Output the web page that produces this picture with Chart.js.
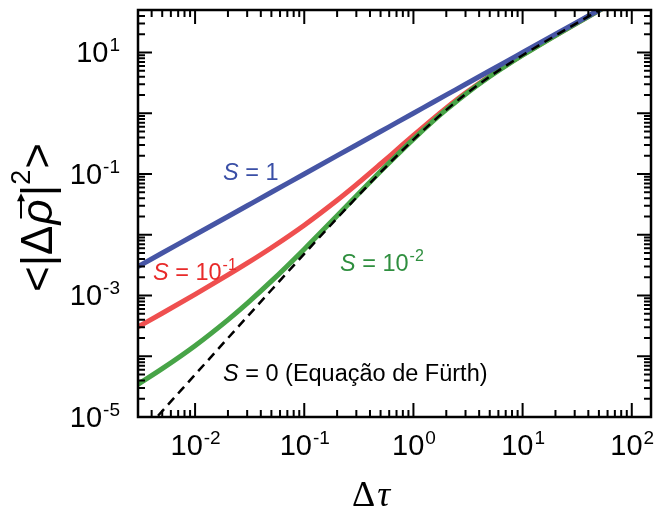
<!DOCTYPE html>
<html lang="pt">
<head>
    <meta charset="UTF-8">
    <title>MSD</title>
    <script src="https://cdn.jsdelivr.net/npm/chart.js"></script>
    <style>
        body { margin: 0; background: #fff; }
        canvas { display: block; }
    </style>
</head>
<body>
    <canvas id="msdChart" width="655" height="513"></canvas>

    <script>
        // values
        const tauValues = [0.003, 0.005, 0.01, 0.02, 0.03, 0.05, 0.1, 0.2, 0.3, 0.5, 0.7, 1, 1.5, 2, 3, 5, 7, 10, 20, 50, 70];
        const s1Values = [0.003, 0.005, 0.01, 0.02, 0.03, 0.05, 0.1, 0.2, 0.3, 0.5, 0.7, 1, 1.5, 2, 3, 5, 7, 10, 20, 50, 70];
        const s01Values = [3.04e-4, 5.11e-4, 1.045e-3, 2.18e-3, 3.40e-3, 6.11e-3, 0.01435, 0.0369, 0.0667, 0.146, 0.247, 0.431, 0.801, 1.222, 2.145, 4.106, 6.10, 9.10, 19.1, 49.1, 69.1];
        const s001Values = [3.45e-5, 6.24e-5, 1.49e-4, 3.97e-4, 7.41e-4, 1.72e-3, 5.79e-3, 0.0205, 0.0434, 0.1105, 0.2016, 0.374, 0.731, 1.144, 2.059, 4.017, 6.011, 9.01, 19.01, 49.01, 69.01];
        const furthValues = [4.49e-6, 1.25e-5, 4.98e-5, 1.99e-4, 4.46e-4, 1.23e-3, 4.84e-3, 0.0187, 0.0408, 0.1065, 0.1966, 0.368, 0.723, 1.135, 2.050, 4.007, 6.001, 9.00, 19.0, 49.0, 69.0];

        const xTickExps = [-2, -1, 0, 1, 2];
        const yTickExps = [-5, -3, -1, 1];

        const FONT = "'Liberation Sans', Arial, sans-serif";

        function toPoints(ys) {
            return tauValues.map((x, i) => ({ x: x, y: ys[i] }));
        }

        function drawPow(ctx, exp, x, y, align) {
            // y is the baseline of "10"
            ctx.font = "29px " + FONT;
            const wBase = ctx.measureText("10").width;
            ctx.font = "19px " + FONT;
            const expText = String(exp);
            const wExp = ctx.measureText(expText).width;
            let start = x;
            if (align === "center") start = x - (wBase + wExp) / 2;
            if (align === "right") start = x - (wBase + wExp);
            ctx.textAlign = "left";
            ctx.textBaseline = "alphabetic";
            ctx.font = "29px " + FONT;
            ctx.fillText("10", start, y);
            ctx.font = "19px " + FONT;
            ctx.fillText(expText, start + wBase + 1, y - 11);
        }

        // text with italic S, like "S = 1" or "S = 10^-1"
        function drawLabel(ctx, x, y, color, rest, exp) {
            ctx.fillStyle = color;
            ctx.textAlign = "left";
            ctx.textBaseline = "alphabetic";
            ctx.font = "italic 23.5px " + FONT;
            ctx.fillText("S", x, y);
            let px = x + ctx.measureText("S").width;
            ctx.font = "23.5px " + FONT;
            ctx.fillText(rest, px, y);
            px += ctx.measureText(rest).width;
            if (exp) {
                ctx.font = "16px " + FONT;
                ctx.fillText(exp, px + 1, y - 10);
            }
        }

        const framePlugin = {
            id: "frame",
            afterDraw(chart) {
                const ctx = chart.ctx;
                const area = chart.chartArea;
                const xs = chart.scales.x;
                const ys = chart.scales.y;
                ctx.save();
                ctx.strokeStyle = "#000";
                ctx.fillStyle = "#000";

                // inward ticks on all four sides
                ctx.lineWidth = 2;
                for (let d = -3; d <= 2; d++) {
                    for (let m = 1; m <= 9; m++) {
                        const v = m * Math.pow(10, d);
                        if (v < xs.min || v > xs.max) continue;
                        const px = xs.getPixelForValue(v);
                        const len = m === 1 ? 14 : 7;
                        ctx.beginPath();
                        ctx.moveTo(px, area.bottom);
                        ctx.lineTo(px, area.bottom - len);
                        ctx.moveTo(px, area.top);
                        ctx.lineTo(px, area.top + len);
                        ctx.stroke();
                    }
                }
                for (let d = -5; d <= 1; d++) {
                    for (let m = 1; m <= 9; m++) {
                        const v = m * Math.pow(10, d);
                        if (v < ys.min || v > ys.max) continue;
                        const py = ys.getPixelForValue(v);
                        const len = m === 1 ? 14 : 7;
                        ctx.beginPath();
                        ctx.moveTo(area.left, py);
                        ctx.lineTo(area.left + len, py);
                        ctx.moveTo(area.right, py);
                        ctx.lineTo(area.right - len, py);
                        ctx.stroke();
                    }
                }

                ctx.lineWidth = 2.5;
                ctx.strokeRect(area.left, area.top, area.right - area.left, area.bottom - area.top);

                // tick labels
                xTickExps.forEach(e => {
                    drawPow(ctx, e, xs.getPixelForValue(Math.pow(10, e)), area.bottom + 38, "center");
                });
                yTickExps.forEach(e => {
                    drawPow(ctx, e, area.left - 19, ys.getPixelForValue(Math.pow(10, e)) + 10, "right");
                });

                // x title
                ctx.textBaseline = "alphabetic";
                ctx.textAlign = "left";
                ctx.font = "36px 'Liberation Serif', serif";
                const wDelta = ctx.measureText("\u0394").width;
                const xt = 352;
                ctx.fillText("\u0394", xt, 506);
                ctx.font = "italic 36px 'Liberation Serif', serif";
                ctx.fillText("\u03c4", xt + wDelta + 2, 506);

                // y title, rotated
                ctx.translate(52, 216);
                ctx.rotate(-Math.PI / 2);
                const big = "44px " + FONT;
                let u = -76;
                ctx.font = big;
                ctx.fillText("<", u, 0);
                u += ctx.measureText("<").width;
                ctx.fillText("|", u, 0);
                u += ctx.measureText("|").width;
                ctx.fillText("\u0394", u, 0);
                u += ctx.measureText("\u0394").width + 1;
                ctx.font = "italic " + big;
                ctx.fillText("\u03c1", u, 0);
                const wRho = ctx.measureText("\u03c1").width;
                // arrow over rho
                ctx.lineWidth = 2;
                ctx.beginPath();
                ctx.moveTo(u + 6, -31);
                ctx.lineTo(u + wRho + 2, -31);
                ctx.stroke();
                ctx.beginPath();
                ctx.moveTo(u + wRho + 6, -31);
                ctx.lineTo(u + wRho - 2, -35);
                ctx.lineTo(u + wRho - 2, -27);
                ctx.closePath();
                ctx.fill();
                u += wRho + 3;
                ctx.font = big;
                ctx.fillText("|", u, 0);
                u += ctx.measureText("|").width;
                ctx.font = "27px " + FONT;
                ctx.fillText("2", u, -22);
                u += ctx.measureText("2").width + 1;
                ctx.font = big;
                ctx.fillText(">", u, 0);
                ctx.restore();

                // curve labels
                ctx.save();
                drawLabel(ctx, 223, 180, "#3a4fa6", " = 1");
                drawLabel(ctx, 153, 280, "#e82a2a", " = 10", "-1");
                drawLabel(ctx, 340, 271, "#2f8f3f", " = 10", "-2");
                drawLabel(ctx, 223, 381, "#000", " = 0 (Equa\u00e7\u00e3o de F\u00fcrth)");
                ctx.restore();
            }
        };

        const lineStyle = {
            showLine: true,
            pointRadius: 0,
            fill: false,
            clip: 0,
            cubicInterpolationMode: "monotone"
        };

        const chartData = {
            datasets: [
                Object.assign({ label: "S = 0", data: toPoints(furthValues), borderColor: "#000", borderWidth: 2.5, borderDash: [9, 6] }, lineStyle),
                Object.assign({ label: "S = 1", data: toPoints(s1Values), borderColor: "#4655a5", borderWidth: 5 }, lineStyle),
                Object.assign({ label: "S = 0.01", data: toPoints(s001Values), borderColor: "#47a447", borderWidth: 5 }, lineStyle),
                Object.assign({ label: "S = 0.1", data: toPoints(s01Values), borderColor: "#ef4f4f", borderWidth: 5 }, lineStyle)
            ]
        };

        const config = {
            type: "scatter",
            data: chartData,
            options: {
                responsive: false,
                animation: false,
                layout: { padding: { left: 138, top: 10, right: 4, bottom: 96 } },
                plugins: {
                    legend: { display: false },
                    tooltip: { enabled: false }
                },
                scales: {
                    x: { type: "logarithmic", min: 0.003, max: 150, display: false },
                    y: { type: "logarithmic", min: 1e-5, max: 50, display: false }
                }
            },
            plugins: [framePlugin]
        };

        new Chart(document.getElementById("msdChart").getContext("2d"), config);
    </script>
</body>
</html>
